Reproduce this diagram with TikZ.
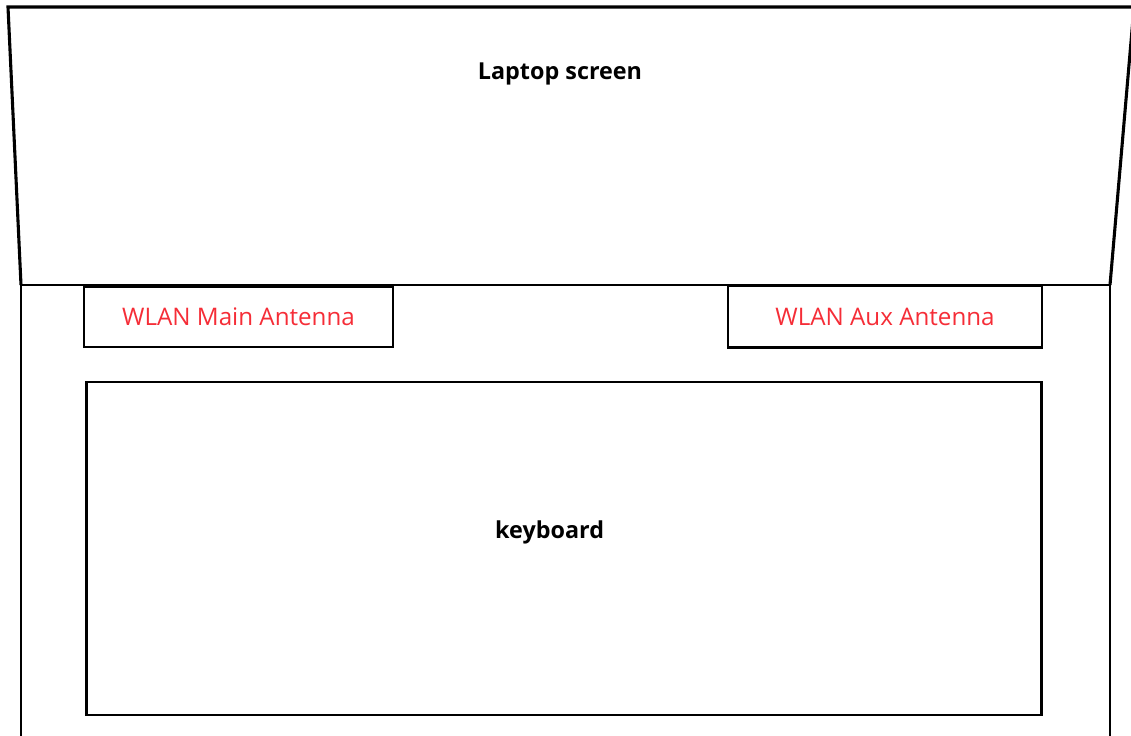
\documentclass[tikz,border=0pt]{standalone}
\usepackage{fontspec}
\setmainfont{Open Sans}
\usepackage{xcolor}
\definecolor{wlanred}{RGB}{245,45,55}
\usetikzlibrary{positioning}

\begin{document}
\begin{tikzpicture}[x=0.025cm, y=-0.025cm,
    edge/.style={line width=1.1pt, line join=miter},
    antenna/.style={draw, line width=1.9pt, text=wlanred, inner sep=0pt,
                    font=\fontsize{17.2}{19}\selectfont},
    bigtext/.style={font=\fontsize{16.6}{19}\selectfont\bfseries}]

    \useasboundingbox (0,0) rectangle (1131,736);

    % --- Screen (slanted lid) ---
    \coordinate (SL) at (21,285);
    \coordinate (SR) at (1110,285);
    \draw[line width=2.2pt] (SL) -- (8,7) -- (1134,7) -- (SR);
    \node[bigtext] (screen) at (560,74) {Laptop screen};

    % --- Base ---
    \coordinate (BL) at (21,740);
    \coordinate (BR) at (1110,740);
    \draw[edge] (BL) -- (SL) -- (SR) -- (BR);

    % --- Antennas ---
    \node[antenna, minimum width=7.725cm, minimum height=1.5cm] (main) at (238.5,317) {WLAN Main Antenna};
    \node[antenna, minimum width=7.85cm, minimum height=1.55cm] (aux) at (885,316.5) {WLAN Aux Antenna};

    % --- Keyboard ---
    \node[draw, line width=2pt, minimum width=23.85cm, minimum height=8.325cm,
          label={[bigtext, xshift=-0.36cm, yshift=0.39cm]center:keyboard}] (keyboard) at (564,548.5) {};

\end{tikzpicture}
\end{document}
